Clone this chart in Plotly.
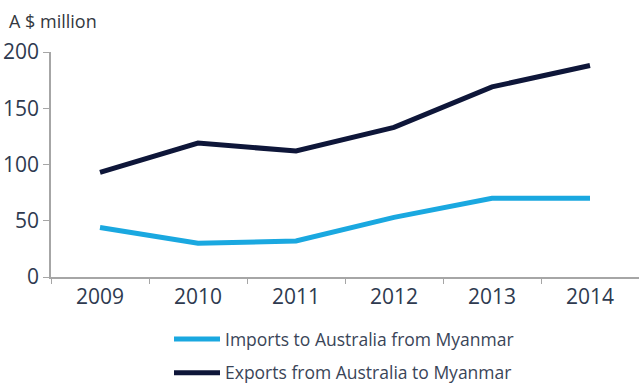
import plotly.graph_objects as go

years = ["2009", "2010", "2011", "2012", "2013", "2014"]
imports_from_myanmar = [44, 30, 32, 53, 70, 70]
exports_to_myanmar = [93, 119, 112, 133, 169, 188]
y_ticks = [0, 50, 100, 150, 200]

FONT = "Open Sans"
TEXT = "#2e3a4f"
AXIS = "#a6a6a6"

# plot area: 588 x 225 px
L, T, PW, PH = 51, 52, 588, 225

fig = go.Figure()
fig.add_trace(go.Scatter(
    x=years, y=imports_from_myanmar, mode="lines",
    name="Imports to Australia from Myanmar", legendgroup="imp",
    line=dict(color="#1aa8e0", width=5),
))
fig.add_trace(go.Scatter(
    x=years, y=exports_to_myanmar, mode="lines",
    name="Exports from Australia to Myanmar", legendgroup="exp",
    line=dict(color="#0e1639", width=5),
))

fig.update_layout(
    width=639, height=385,
    margin=dict(l=L, r=0, t=T, b=385 - T - PH, autoexpand=False),
    paper_bgcolor="white", plot_bgcolor="white",
    font=dict(family=FONT, color=TEXT),
    showlegend=True,
    legend=dict(
        xref="paper", yref="paper",
        x=(169 - L) / PW, y=-(321 - T - PH) / PH,
        xanchor="left", yanchor="top",
        traceorder="grouped", tracegroupgap=8, itemwidth=46,
        font=dict(size=17.5, color="#3a4558", family=FONT),
        bgcolor="rgba(0,0,0,0)",
    ),
    xaxis=dict(
        type="category", range=[-0.5, 5.5],
        showgrid=False, showline=True, linecolor=AXIS, linewidth=1.5,
        ticks="outside", tickson="boundaries", ticklen=5, tickcolor=AXIS,
        tickfont=dict(size=21, color=TEXT), tickangle=0,
    ),
    yaxis=dict(
        range=[0, 200], tickvals=y_ticks,
        showgrid=False, showline=True, linecolor=AXIS, linewidth=1.5,
        ticks="outside", ticklen=6, tickcolor=AXIS,
        tickfont=dict(size=21, color=TEXT), zeroline=False,
    ),
    annotations=[dict(
        text="A $ million", xref="paper", yref="paper",
        x=-(L - 7) / PW, y=1 + (T - 7) / PH, xanchor="left", yanchor="top",
        showarrow=False, font=dict(size=18, color="#333840"),
    )],
)

fig.write_html("out.html")
